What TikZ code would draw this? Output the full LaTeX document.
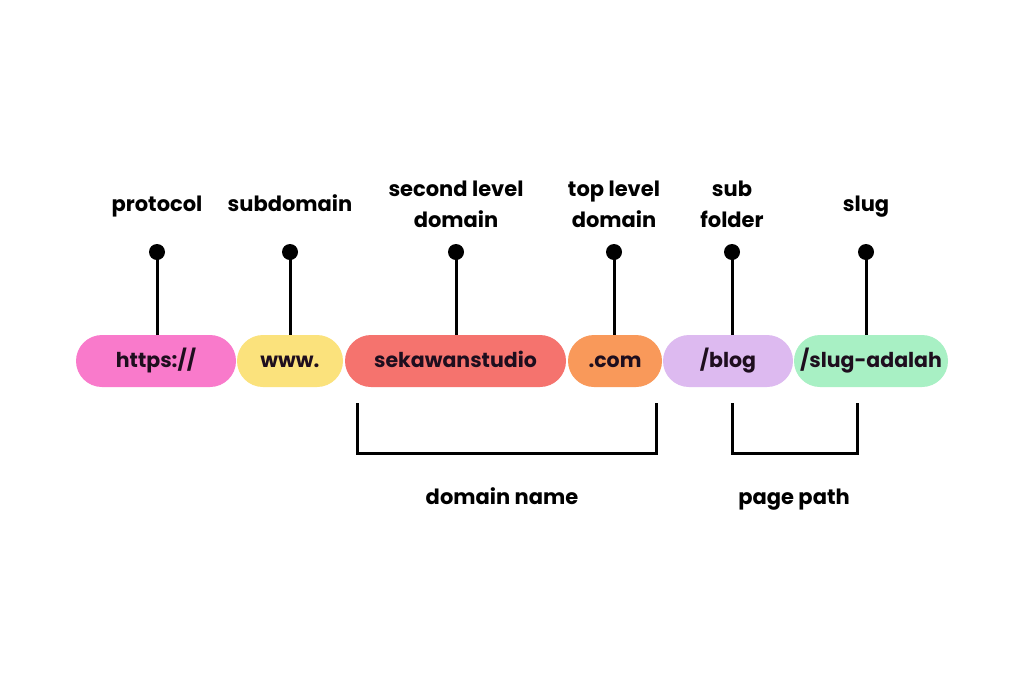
\documentclass[tikz,border=0pt]{standalone}
\usepackage{fontspec}
\setmainfont{Poppins}
\usetikzlibrary{shapes.misc,positioning}
\definecolor{pinkpill}{HTML}{F97ACB}
\definecolor{yellowpill}{HTML}{FBE27C}
\definecolor{redpill}{HTML}{F5736E}
\definecolor{orangepill}{HTML}{F9995A}
\definecolor{purplepill}{HTML}{DDBAF0}
\definecolor{greenpill}{HTML}{A8F0C4}
\definecolor{pilltext}{HTML}{1E0E1E}
\begin{document}
\begin{tikzpicture}[x=1pt, y=-1pt,
  pill/.style={rounded rectangle, minimum height=52pt, inner sep=0pt, text height=16pt, text depth=3pt, font=\fontsize{20.5}{22}\selectfont\bfseries, text=pilltext},
  tag/.style={font=\fontsize{21}{31}\selectfont\bfseries, align=center},
  pin/.style={circle, fill=black, inner sep=0pt, minimum size=16pt},
  stem/.style={line width=3pt}]

  \fill[white] (0,0) rectangle (1024,683);

  % url pieces
  \node[pill, fill=pinkpill, minimum width=160pt] (https) at (156,361) {https://};
  \node[pill, fill=yellowpill, minimum width=106pt] (www) at (290,361) {www.};
  \node[pill, fill=redpill, minimum width=221pt] (sekawan) at (455.5,361) {sekawanstudio};
  \node[pill, fill=orangepill, minimum width=94pt] (com) at (615,361) {.com};
  \node[pill, fill=purplepill, minimum width=130pt] (blog) at (728,361) {/blog};
  \node[pill, fill=greenpill, minimum width=154pt] (slug) at (871,361) {/slug-adalah};

  % pins and labels
  \node[pin] (p1) at (157,252) {};
  \node[pin] (p2) at (290,252) {};
  \node[pin] (p3) at (456,252) {};
  \node[pin] (p4) at (614,252) {};
  \node[pin] (p5) at (732,252) {};
  \node[pin] (p6) at (866,252) {};
  \draw[stem] (p1.center) -- (p1 |- https.north);
  \draw[stem] (p2.center) -- (p2 |- www.north);
  \draw[stem] (p3.center) -- (p3 |- sekawan.north);
  \draw[stem] (p4.center) -- (p4 |- com.north);
  \draw[stem] (p5.center) -- (p5 |- blog.north);
  \draw[stem] (p6.center) -- (p6 |- slug.north);

  \node[tag, anchor=base] (protocol) at (157,211) {protocol};
  \node[tag, anchor=base] (subdomain) at (290,211) {subdomain};
  \node[tag] (sld) at (456,204) {second level\\domain};
  \node[tag] (tld) at (614,204) {top level\\domain};
  \node[tag] (folder) at (732,204) {sub\\folder};
  \node[tag, anchor=base] (slugtag) at (866,211) {slug};

  % brackets
  \coordinate (d1) at (357,403);
  \coordinate (d2) at (656,403);
  \coordinate (q1) at (732,403);
  \coordinate (q2) at (857,403);
  \draw[stem, line join=miter] (d1) -- ++(0,50) -| (d2);
  \draw[stem, line join=miter] (q1) -- ++(0,50) -| (q2);
  \node[tag, anchor=base] (domainname) at (502,504) {domain name};
  \node[tag, anchor=base] (pagepath) at (794,504) {page path};
\end{tikzpicture}
\end{document}
